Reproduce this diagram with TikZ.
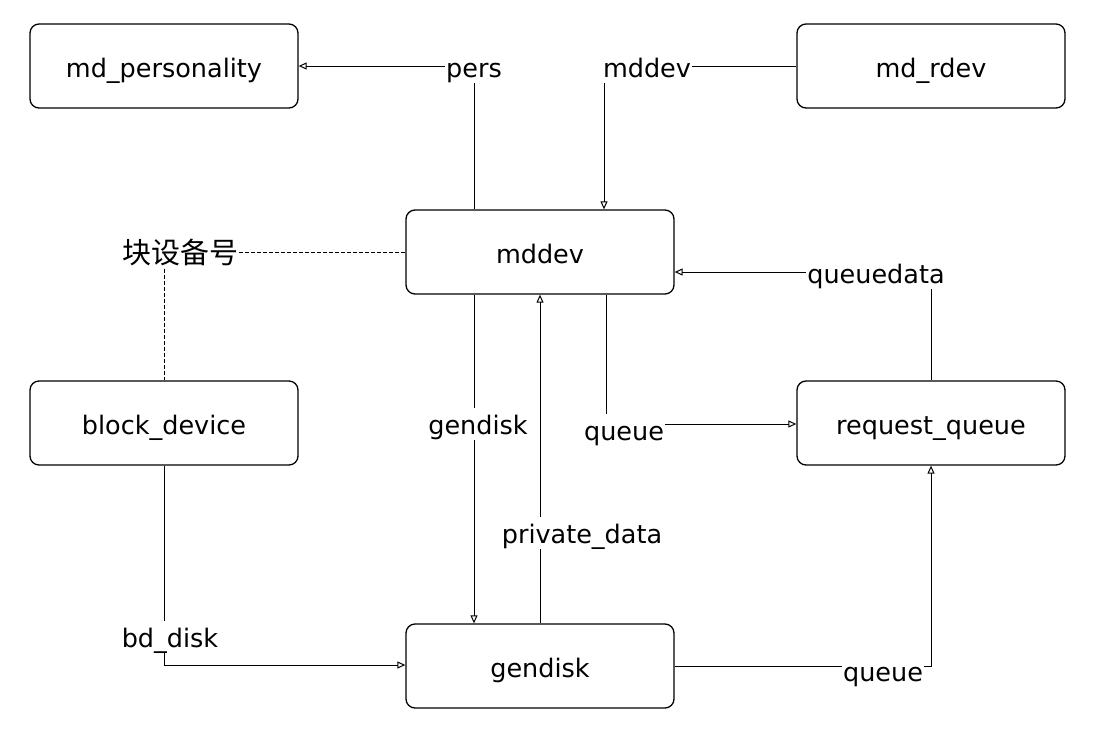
\documentclass[tikz,border=0pt]{standalone}
\usepackage{fontspec}
\setmainfont{DejaVu Sans}
\newfontfamily\cjk{Noto Sans CJK SC}
\usetikzlibrary{arrows.meta}
\pgfdeclarelayer{bg}
\pgfsetlayers{bg,main}
\begin{document}
\begin{tikzpicture}[x=1pt,y=-1pt,
  txt/.style={font=\fontsize{25.5}{30}\selectfont},
  box/.style={txt, text height=22pt, text depth=0pt, draw, line width=1.3pt, rounded corners=9pt, minimum width=268pt, minimum height=84pt, inner sep=0pt},
  lbl/.style={txt, text height=25pt, text depth=5pt, fill=white, inner sep=1pt},
  conn/.style={line width=1pt},
  arr/.style={conn, -{Triangle[open,length=8pt,width=7pt]}},
  dsh/.style={conn, dash pattern=on 4pt off 2pt}]
\path[use as bounding box] (0,0) rectangle (1096,742);
% boxes
\node[box] (mdp) at (164,66) {md\_personality};
\node[box] (mdr) at (931,66) {md\_rdev};
\node[box] (mddev) at (540,252) {mddev};
\node[box] (blk) at (164,423) {block\_device};
\node[box] (rq) at (931,423) {request\_queue};
\node[box] (gd) at (540,666) {gendisk};
% labels
\node[lbl] (pers) at (474,67) {pers};
\node[lbl] (lmd) at (647,67) {mddev};
\node[lbl, font=\cjk\fontsize{29}{33}\selectfont, text height=25pt, text depth=3pt] (bnum) at (180,252) {块设备号};
\node[lbl] (qd) at (876,273) {queuedata};
\node[lbl] (lgd) at (478,424) {gendisk};
\node[lbl] (pd) at (582,533) {private\_data};
\node[lbl] (q1) at (624,430) {queue};
\node[lbl] (bd) at (170,637) {bd\_disk};
\node[lbl] (q2) at (883,671) {queue};
% bend points
\coordinate (cpers) at (474,66);
\coordinate (cmd) at (604,66);
\coordinate (cbn) at (164,252);
\coordinate (cqd) at (931,272);
\coordinate (cq1) at (606,424);
\coordinate (cbd) at (164,665);
\coordinate (cq2) at (931,666);
\begin{pgfonlayer}{bg}
\draw[arr] (mddev.north -| cpers) -- (cpers) -- (mdp.east |- cpers);
\draw[arr] (mdr.west |- cmd) -- (cmd) -- (mddev.north -| cmd);
\draw[dsh] (mddev.west) -- (cbn) -- (blk.north);
\draw[arr] (rq.north) -- (cqd) -- (mddev.east |- cqd);
\draw[arr] (mddev.south -| cpers) -- (gd.north -| cpers);
\draw[arr] (gd.north) -- (mddev.south);
\draw[arr] (mddev.south -| cq1) -- (cq1) -- (rq.west |- cq1);
\draw[arr] (blk.south) -- (cbd) -- (gd.west |- cbd);
\draw[arr] (gd.east |- cq2) -- (cq2) -- (rq.south);
\end{pgfonlayer}
\end{tikzpicture}
\end{document}
